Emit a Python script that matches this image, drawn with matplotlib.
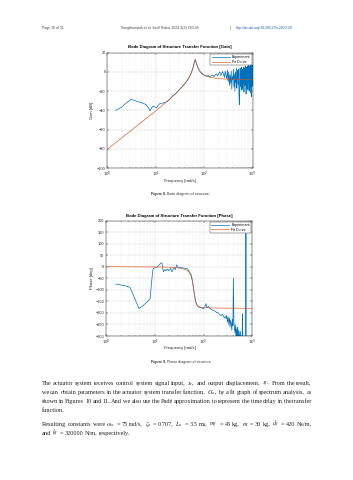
import matplotlib
matplotlib.use("Agg")
import matplotlib.pyplot as plt
from matplotlib.ticker import LogLocator, NullFormatter

# ---- data ----
# gain plot, experiment (low / mid frequency part)
gain_exp_f = [1.5, 2.0, 2.5, 3.1, 3.8, 4.6, 5.5, 6.3, 7.0, 7.6,
              8.3, 8.9, 9.6, 10.4, 11.3, 12.3, 13.8, 15.5, 17.5, 19.6,
              21, 23, 26, 30, 35, 40, 45, 50, 55, 60,
              63, 65, 67, 70, 75, 80, 90, 100, 110, 120,
              130, 140, 150, 160, 170, 180, 190, 200, 210, 220,
              230, 240]
gain_exp_db = [-40, -36.5, -32, -28.5, -30, -31.5, -32.7, -34, -37, -40.5,
               -37, -35.5, -36.5, -37.5, -34.5, -32.7, -32.5, -32, -30.5, -28.5,
               -26.5, -24.5, -22.5, -19, -15.5, -12, -8.5, -5, 0, 6,
               10.5, 13, 11, 8, 4, 1, -2, -3.5, -4.5, -3.8,
               -5, -4, -3.2, -4.8, -3, -2.2, -4.2, -1.5, 0, -3.8,
               -1.2, 0.5]
# noisy high frequency part, bins every 10 rad/s from 250 to 1000
gain_noise_f = list(range(250, 1001, 10))
gain_noise_db = [-2, -6, 1, -4, -7, 2, -10, 0, -14, -3,
                 -12, 1, -18, -5, -8, 3, -16, -2, -20, 0,
                 -11, 4, -17, -6, 2, -13, 3, -22, -34, -4,
                 4, -15, 1, -19, 5, -9, 2, -18, 3, -12,
                 5, -21, 0, 4, -14, 6, -9, 2, -23, 5,
                 -6, 3, -17, 6, -3, -19, 4, 7, -12, 2,
                 -20, 6, -8, 3, -16, 7, -5, -22, 5, 8,
                 -26, 4, -10, 7, -15, 6]

# gain plot, fit curve
fit_gain_f = [1, 1.5, 2, 3, 5, 7, 10, 13, 16, 20,
              25, 30, 35, 40, 45, 50, 55, 58, 61, 63,
              65, 67, 70, 75, 80, 90, 100, 125, 150, 200,
              300, 500, 1000]
fit_gain_db = [-80.5, -73.5, -68.5, -61.5, -52.6, -46.7, -40.5, -35.8, -31.8, -27.6,
               -23.2, -19.1, -15.3, -12.1, -8.7, -4.8, 0, 3.5, 8, 11,
               12.9, 11, 7.9, 3.7, 1.2, -1.7, -3.2, -5.3, -6.2, -7.1,
               -7.5, -7.8, -7.9]

# phase plot, experiment
phase_exp_f = [1.6, 2.0, 2.5, 3.1, 3.6, 4.2, 4.75, 5.5, 6.5, 7.7,
               8.0, 8.5, 9.0, 9.3, 10, 11, 12, 13.2, 14, 15,
               16, 17, 18, 19.5, 21, 22.5, 24.7, 26.5, 28, 30,
               33, 37, 42, 47, 52, 56, 60, 64, 68, 72,
               76, 82, 90, 100, 106, 112, 118, 125, 135, 145,
               160, 172, 185, 200, 215, 230, 245, 260, 270]
phase_exp_deg = [-75, -79, -83, -89, -120, -155, -181, -172, -158, -143,
                 -140, -80, -25, -7, -5, -3, 5, 15, 17, -22,
                 -12, -18, -10, -17, -7, -22, -5, -12, 8, -5,
                 -3, -5, -7, -9, -25, -35, -70, -110, -145, -163,
                 -172, -176, -178, -182, -174, -160, -178, -172, -180, -185,
                 -190, -192, -198, -200, -208, -212, -205, -218, -222]
phase_noise_f = list(range(280, 761, 10))
phase_noise_deg = [-215, -225, -210, -240, -218, -250, -222, -262, -230, -245,
                   -275, -228, -255, -50, -240, -265, -285, -250, -300, -270,
                   -310, -262, -290, -320, -275, -330, -295, -340, -280, -310,
                   -345, -300, -350, -320, -292, -205, -330, -300, -370, -340,
                   -310, -380, -350, -360, -380, -400, 145, -390, -420]

# phase plot, fit curve
fit_phase_f = [1, 10, 20, 30, 38, 45, 50, 55, 58, 61,
               64, 67, 70, 74, 80, 90, 120, 200, 1000]
fit_phase_deg = [0, -1, -2, -5, -9, -15, -22, -38, -55, -80,
                 -110, -138, -157, -168, -173, -176, -178, -179, -180]

gain_ticks = [-100, -80, -60, -40, -20, 0, 20]
phase_ticks = [-300, -250, -200, -150, -100, -50, 0, 50, 100, 150, 200]

BLUE = "#0072BD"
ORANGE = "#D95319"
W, H = 353, 480
SANS = "Liberation Sans"
SERIF = "Liberation Serif"


def fx(x):
    return x / W


def fy(y):
    return 1 - y / H


fig = plt.figure(figsize=(W / 100, H / 100), dpi=100)
fig.patch.set_facecolor("white")


def style_axes(ax, yticks):
    ax.set_xscale("log")
    ax.set_xlim(1, 1000)
    ax.set_ylim(yticks[0], yticks[-1])
    ax.set_yticks(yticks)
    ax.xaxis.set_minor_locator(LogLocator(base=10, subs=range(2, 10)))
    ax.xaxis.set_minor_formatter(NullFormatter())
    ax.grid(True, which="major", color="#dcdcdc", lw=0.35)
    ax.grid(True, which="minor", axis="x", color="#ececec", lw=0.3)
    ax.set_axisbelow(True)
    ax.tick_params(which="both", direction="in", top=True, right=True,
                   width=0.3, colors="#262626", labelsize=2.8, pad=1.2)
    ax.tick_params(which="major", length=1.6)
    ax.tick_params(which="minor", length=0.8)
    for lab in ax.get_yticklabels():
        lab.set_family(SANS)
    for s in ax.spines.values():
        s.set_linewidth(0.35)
        s.set_color("#262626")


def add_legend(ax):
    leg = ax.legend(loc="upper right", frameon=True, fancybox=False,
                    handlelength=5.0, handletextpad=0.5, borderpad=0.4,
                    labelspacing=0.2, borderaxespad=0.3,
                    prop={"family": SANS, "size": 2.6})
    leg.get_frame().set_linewidth(0.35)
    leg.get_frame().set_edgecolor("#262626")


# ---- gain ----
ax1 = fig.add_axes([fx(107.3), fy(168), (252.7 - 107.3) / W, (168 - 52.7) / H])
ax1.plot(gain_exp_f + gain_noise_f, gain_exp_db + gain_noise_db,
         color=BLUE, lw=0.5, label="Experiment")
ax1.plot(fit_gain_f, fit_gain_db, color=ORANGE, lw=0.45, label="Fit Curve")
style_axes(ax1, gain_ticks)
add_legend(ax1)

fig.text(fx(180), fy(47.3), "Bode Diagram of Structure Transfer Function [Gain]",
         ha="center", va="center", size=3.1, weight="bold", family=SANS)
fig.text(fx(180), fy(180.7), "Frequency [rad/s]", ha="center", va="center",
         size=3.0, family=SANS, color="#262626")
fig.text(fx(91.7), fy(110.3), "Gain [dB]", ha="center", va="center",
         rotation=90, size=3.0, family=SANS, color="#262626")

# ---- phase ----
ax2 = fig.add_axes([fx(106), fy(336), (252.3 - 106) / W, (336 - 220.5) / H])
ax2.plot(phase_exp_f + phase_noise_f, phase_exp_deg + phase_noise_deg,
         color=BLUE, lw=0.5, label="Experiment")
ax2.plot(fit_phase_f, fit_phase_deg, color=ORANGE, lw=0.45, label="Fit Curve")
style_axes(ax2, phase_ticks)
add_legend(ax2)

fig.text(fx(179.5), fy(215.7), "Bode Diagram of Structure Transfer Function [Phase]",
         ha="center", va="center", size=3.1, weight="bold", family=SANS)
fig.text(fx(179.5), fy(347.7), "Frequency [rad/s]", ha="center", va="center",
         size=3.0, family=SANS, color="#262626")
fig.text(fx(91.7), fy(278.3), "Phase [deg]", ha="center", va="center",
         rotation=90, size=3.0, family=SANS, color="#262626")

# ---- captions ----
for yy, num, rest in [(194.3, "Figure 8.", " Bode diagram of structure."),
                      (362.3, "Figure 9.", " Phase diagram of structure.")]:
    fig.text(fx(166), fy(yy), num, ha="right", va="center", size=2.6,
             weight="bold", family=SANS, color="#333333")
    fig.text(fx(166), fy(yy), rest, ha="left", va="center", size=2.6,
             family=SANS, color="#333333")

# ---- running header ----
fig.text(fx(41.7), fy(27.5), "Page 10 of 31", ha="left", va="center",
         size=2.5, family=SANS, color="#444444")
fig.text(fx(120.7), fy(27.5), "Songthumpith et al. Intell Robot 2023;3(3):380-99",
         ha="left", va="center", size=2.5, family=SANS, color="#444444")
fig.text(fx(230), fy(27.5), "|", ha="center", va="center",
         size=2.5, family=SANS, color="#444444")
fig.text(fx(235.3), fy(27.5), "http://dx.doi.org/10.20517/ir.2023.20",
         ha="left", va="center", size=2.5, family=SANS, color="#1f5fa8")

# ---- body text ----
body = [
    (383.0, r"The actuator system receives control system signal input, $x_r$, and output displacement, $x_f$. From the result,", True),
    (392.5, r"we can obtain parameters in the actuator system transfer function, $G_a$, by a fit graph of spectrum analysis, as", True),
    (401.5, r"shown in Figures 10 and 11. And we also use the Padé approximation to represent the time delay in the transfer", True),
    (410.5, r"function.", False),
    (424.0, r"Resulting constants were $\omega_a$ = 75 rad/s, $\zeta_a$ = 0.707, $L_a$ = 3.5 ms, $m_f$ = 45 kg, $m$ = 30 kg, $d_f$ = 420 Ns/m,", True),
    (433.0, r"and $k_f$ = 320000 N/m, respectively.", False),
]
x_left, x_right = 41.7, 311.7
renderer = fig.canvas.get_renderer()
for yy, line, just in body:
    words = line.split(" ")
    texts = [fig.text(0, fy(yy), w, ha="left", va="baseline", size=4.5,
                      family=SERIF, math_fontfamily="stix", color="#222222")
             for w in words]
    widths = [t.get_window_extent(renderer).width for t in texts]
    space = 1.3
    if just and len(words) > 1:
        space = (x_right - x_left - sum(widths)) / (len(words) - 1)
    x = x_left
    for t, w in zip(texts, widths):
        t.set_position((fx(x), fy(yy + 1.8)))
        x += w + space

fig.savefig("out.png", dpi=100, facecolor="white")
